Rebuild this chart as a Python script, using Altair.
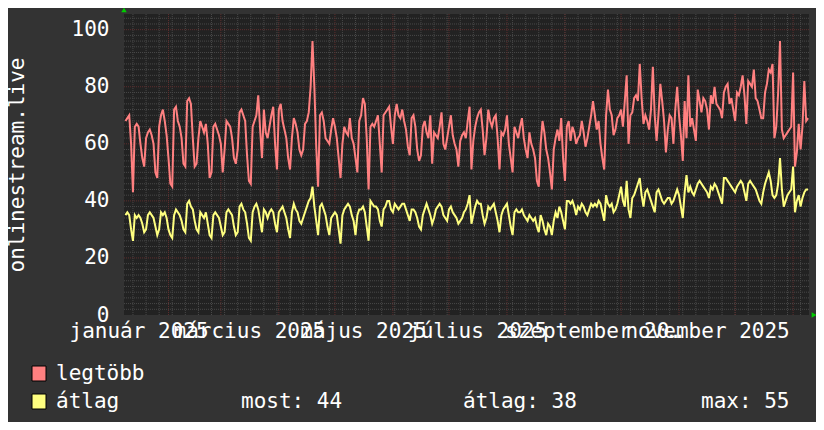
import altair as alt
import pandas as pd

# ---- data (one value per day) ----
red = [
    68, 69, 70, 60, 43, 66, 67,
    66, 60, 55, 52, 62, 64, 65,
    63, 60, 50, 48, 66, 70, 72,
    68, 63, 55, 46, 45, 72, 73,
    68, 66, 62, 53, 52, 75, 76,
    74, 62, 52, 53, 62, 68, 66,
    64, 67, 60, 48, 50, 66, 67,
    65, 63, 60, 50, 58, 68, 67,
    66, 62, 55, 53, 58, 71, 72,
    70, 68, 56, 47, 46, 66, 68,
    70, 77, 65, 55,
    72, 64, 62, 66, 70, 73, 60,
    51, 72, 74, 68, 65, 62, 55,
    51, 62, 69, 67, 64, 58, 56,
    58, 67, 68, 71, 80, 96, 80,
    59, 45, 70, 71, 68, 62, 61,
    60, 65, 69, 66, 62, 55, 48,
    60, 66, 64, 63, 69, 62, 60,
    55, 50, 68, 70, 76, 74, 62,
    44, 66, 67, 66, 68, 70, 60,
    50, 70, 71, 72, 73, 66, 60,
    70, 74, 70, 69,
    72, 68, 65, 59, 56, 69, 70,
    66, 58, 54, 56, 66, 68, 64,
    62, 70, 53, 64, 63, 62, 66,
    71, 60, 58, 62, 66, 70, 63,
    60, 58, 52, 61, 63, 64, 62,
    68, 73, 51, 61, 66, 69, 71,
    72, 65, 56, 62, 72, 68, 66,
    69, 70, 62, 51, 64, 63, 65,
    70, 60, 55, 50, 66, 64, 62,
    66, 69, 62, 58, 55, 64, 60,
    58, 55, 47, 45,
    60, 68, 64, 58, 55, 50, 44,
    58, 62, 65, 61, 69, 55, 47,
    66, 68, 61, 66, 64, 60, 62,
    63, 68, 64, 59, 62, 66, 70,
    75, 70, 65, 68, 60, 55, 51,
    70, 79, 72, 70, 63, 65, 69,
    70, 72, 66, 75, 84, 60, 70,
    71, 76, 77, 75, 88, 76, 67,
    70, 68, 65, 72, 87, 70, 61,
    70, 81, 75, 68, 57, 65, 70,
    69, 60, 72, 80,
    70, 63, 54, 75, 62, 84, 66,
    69, 65, 61, 79, 75, 71, 76,
    75, 72, 65, 77, 74, 80, 74,
    73, 72, 69, 78, 80, 81, 74,
    76, 72, 68, 78, 77, 80, 84,
    77, 67, 82, 81, 80, 86, 76,
    75, 72, 69, 69, 78, 81, 86,
    85, 88, 62, 66, 78, 96, 65,
    62, 63, 64, 65, 66, 85, 52,
    57, 67, 58, 66, 82, 68, 69,
]

yellow = [
    35, 36, 35, 30, 26, 35, 34,
    35, 34, 32, 29, 30, 35, 36,
    35, 34, 31, 28, 30, 36, 35,
    36, 34, 30, 28, 27, 35, 37,
    36, 35, 33, 30, 29, 39, 40,
    38, 37, 33, 30, 29, 36, 35,
    34, 36, 32, 28, 27, 35, 36,
    35, 34, 31, 28, 29, 36, 37,
    36, 35, 31, 28, 29, 38, 39,
    37, 36, 32, 27, 26, 36, 38,
    39, 37, 33, 29,
    37, 36, 34, 36, 37, 36, 32,
    29, 36, 37, 38, 36, 34, 30,
    27, 36, 39, 37, 36, 33, 32,
    34, 36, 38, 40, 41, 45, 38,
    33, 28, 38, 39, 37, 35, 31,
    28, 34, 35, 36, 35, 30, 25,
    35, 37, 38, 39, 38, 35, 33,
    28, 35, 37, 37, 38, 36, 31,
    26, 40, 39, 38, 38, 37, 33,
    31, 37, 38, 40, 40, 37, 36,
    39, 38, 37, 38,
    39, 39, 37, 35, 33, 37, 37,
    36, 34, 31, 30, 35, 37, 39,
    37, 35, 32, 34, 37, 38, 39,
    38, 35, 34, 33, 37, 38, 36,
    35, 34, 32, 33, 34, 36, 37,
    39, 42, 32, 35, 38, 40, 39,
    39, 35, 32, 34, 38, 37, 38,
    39, 36, 33, 29, 35, 37, 38,
    39, 35, 31, 28, 36, 37, 36,
    36, 37, 35, 34, 33, 35, 34,
    33, 34, 31, 29,
    35, 33, 30, 28, 32, 31, 28,
    33, 36, 34, 38, 36, 33, 30,
    40, 40, 39, 40, 38, 35, 38,
    37, 39, 38, 36, 35, 37, 39,
    38, 39, 38, 40, 39, 36, 33,
    42, 39, 38, 39, 36, 37, 39,
    42, 45, 40, 38, 47, 37, 34,
    41, 42, 44, 46, 48, 42, 38,
    43, 44, 42, 40, 38, 36, 43,
    44, 42, 40, 39, 40, 41, 41,
    39, 40, 42, 44,
    42, 38, 34, 43, 49, 43, 45,
    43, 42, 44, 46, 47, 46, 45,
    44, 43, 41, 45, 44, 46, 45,
    43, 41, 39, 48, 48, 47, 46,
    45, 44, 43, 45, 46, 47, 46,
    43, 40, 46, 47, 46, 45, 44,
    42, 40, 39, 43, 46, 48, 50,
    47, 42, 41, 42, 46, 55, 44,
    38, 40, 42, 43, 44, 52, 36,
    40, 42, 38, 41, 43, 44, 44,
]

series_names = ["legtöbb", "átlag"]
legend_stats = ["most: 44", "átlag: 38", "max: 55"]
y_title = "onlinestream.live"
first_day = "2025-01-09"
month_names = ["január", "február", "március", "április", "május", "június",
               "július", "augusztus", "szeptember", "október", "november", "december"]
label_months = [1, 3, 5, 7, 9, 11]
y_ticks = [0, 20, 40, 60, 80, 100]
y_minor = [v for v in range(0, 106, 2) if v % 20]
y_major = [20, 40, 60, 80, 100]
month_lines = pd.date_range("2025-02-01", "2026-01-01", freq="MS")
week_lines = pd.date_range("2025-01-13", "2026-01-05", freq="7D")

# ---- styling ----
FONT = "DejaVu Sans Mono"
FS = 21
BACK = "#333333"
CANVAS = "#222222"
GRID = "#484848"
MGRID = "#5e2e2e"
COLORS = ["#ff8080", "#ffff80"]
FMT = "%Y-%m-%dT%H:%M:%S"

red_days = pd.date_range(first_day, periods=len(red), freq="D").strftime(FMT)
yel_days = pd.date_range(first_day, periods=len(yellow), freq="D").strftime(FMT)
lines = pd.DataFrame({
    "t": list(red_days) + list(yel_days),
    "v": red + yellow,
    "s": [series_names[0]] * len(red) + [series_names[1]] * len(yellow),
})

label_expr = ("[" + ",".join("'" + m + "'" for m in month_names) +
              "][month(datum.value)] + ' ' + year(datum.value)")

xscale = alt.Scale(domain=[alt.DateTime(year=2025, month=1, date=8, hours=5),
                           alt.DateTime(year=2026, month=1, date=9, hours=12)])
yscale = alt.Scale(domain=[0, 105.5], nice=False, zero=True)

xaxis = alt.Axis(values=[alt.DateTime(year=2025, month=m, date=16) for m in label_months],
                 labelExpr=label_expr, labelFont=FONT, labelFontSize=FS,
                 labelColor="#ffffff", labelPadding=22, labelBaseline="alphabetic",
                 labelOverlap=False, labelFlush=False, ticks=False, tickSize=0,
                 domain=False, grid=False)
yaxis = alt.Axis(values=y_ticks, labelFont=FONT, labelFontSize=FS, labelColor="#ffffff",
                 labelPadding=15, ticks=False, tickSize=0, domain=False, grid=False,
                 titleFont=FONT, titleFontSize=FS, titleFontWeight="normal",
                 titleColor="#ffffff", titlePadding=44)

X = alt.X("t:T", scale=xscale, axis=xaxis, title=None)
Y = alt.Y("v:Q", scale=yscale, axis=yaxis, title=y_title)

hminor = alt.Chart(pd.DataFrame({"v": y_minor})).mark_rule(
    color=GRID, strokeDash=[1, 1], strokeWidth=1).encode(y=Y)
vminor = alt.Chart(pd.DataFrame({"t": list(week_lines.strftime(FMT))})).mark_rule(
    color=GRID, strokeDash=[1, 1], strokeWidth=1).encode(x=X)
hmajor = alt.Chart(pd.DataFrame({"v": y_major})).mark_rule(
    color=MGRID, strokeDash=[1, 1], strokeWidth=1).encode(y=Y)
vmajor = alt.Chart(pd.DataFrame({"t": list(month_lines.strftime(FMT))})).mark_rule(
    color=MGRID, strokeDash=[1, 1], strokeWidth=1).encode(x=X)

red_line = alt.Chart(lines).transform_filter(alt.datum.s == series_names[0]).mark_line(
    color=COLORS[0], strokeWidth=2).encode(x=X, y=Y)
yel_line = alt.Chart(lines).transform_filter(alt.datum.s == series_names[1]).mark_line(
    color=COLORS[1], strokeWidth=2).encode(x=X, y=Y)

one = pd.DataFrame({"k": [0]})


def text(s, x, y):
    return alt.Chart(one).mark_text(text=s, font=FONT, fontSize=FS, color="#ffffff",
                                    align="left", baseline="alphabetic").encode(
        x=alt.value(x), y=alt.value(y))


def box(color, y):
    return alt.Chart(one).mark_rect(fill=color, stroke="#000000", strokeWidth=1).encode(
        x=alt.value(-92), x2=alt.value(-78), y=alt.value(y), y2=alt.value(y + 15))


arrow_up = alt.Chart(one).mark_point(shape="triangle-up", filled=True, color="#00cc00",
                                     opacity=1, size=30).encode(
    x=alt.value(0), y=alt.value(-4))
arrow_right = alt.Chart(one).mark_point(shape="triangle-right", filled=True, color="#00cc00",
                                        opacity=1, size=30).encode(
    x=alt.value(690), y=alt.value(301))

chart = alt.layer(
    hminor, vminor, hmajor, vmajor, red_line, yel_line,
    box(COLORS[0], 352), box(COLORS[1], 380),
    text(series_names[0], -68, 366), text(series_names[1], -68, 394),
    text(legend_stats[0], 117, 394), text(legend_stats[1], 339, 394),
    text(legend_stats[2], 577, 394),
    arrow_up, arrow_right,
).properties(
    width=685, height=301,
    background=BACK,
    padding={"left": 116, "top": 6, "right": 7, "bottom": 107},
    autosize=alt.AutoSizeParams(type="none"),
    usermeta={"embedOptions": {"defaultStyle": "body{background:#333333;}"}},
).configure_view(fill=CANVAS, stroke=CANVAS, strokeWidth=0)

chart.save("out.html", embed_options={"renderer": "svg", "actions": False})
